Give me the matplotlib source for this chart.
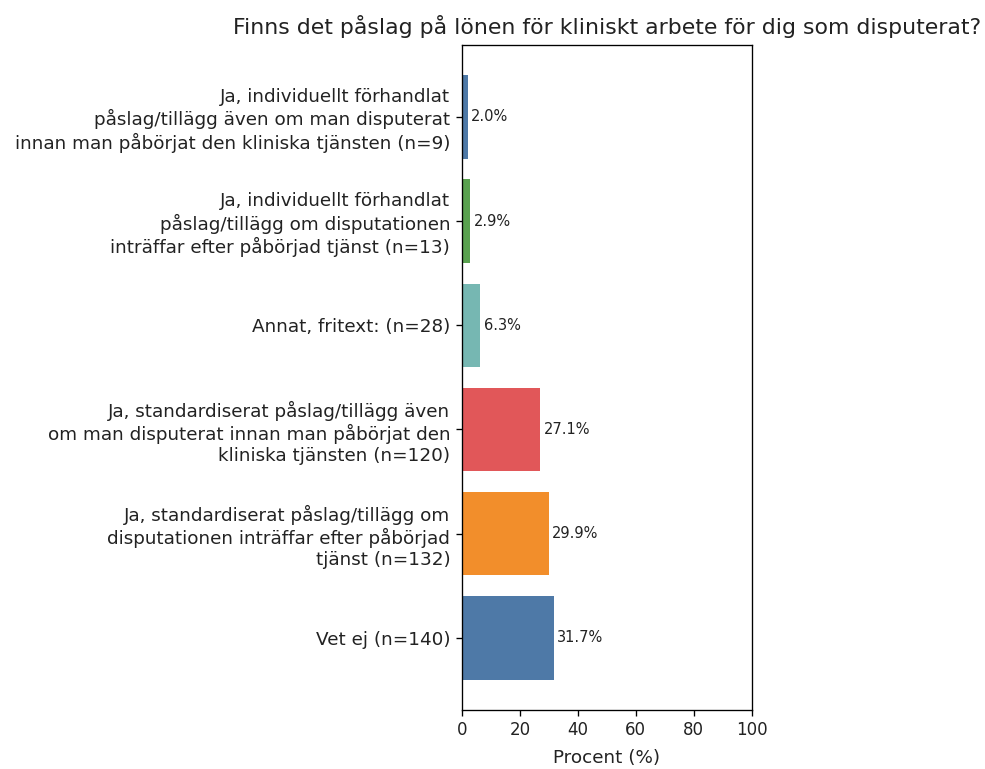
import matplotlib
matplotlib.use("Agg")
import matplotlib.pyplot as plt

# Survey answers (bottom to top)
labels = [
    "Vet ej (n=140)",
    "Ja, standardiserat påslag/tillägg om\ndisputationen inträffar efter påbörjad\ntjänst (n=132)",
    "Ja, standardiserat påslag/tillägg även\nom man disputerat innan man påbörjat den\nkliniska tjänsten (n=120)",
    "Annat, fritext: (n=28)",
    "Ja, individuellt förhandlat\npåslag/tillägg om disputationen\ninträffar efter påbörjad tjänst (n=13)",
    "Ja, individuellt förhandlat\npåslag/tillägg även om man disputerat\ninnan man påbörjat den kliniska tjänsten (n=9)",
]
percent = [31.7, 29.9, 27.1, 6.3, 2.9, 2.0]
colors = ["#4e79a7", "#f28e2b", "#e15759", "#76b7b2", "#59a14f", "#4e79a7"]

fig, ax = plt.subplots(figsize=(9.85, 7.69), dpi=100)
fig.subplots_adjust(left=0.469, right=0.763, top=0.9415, bottom=0.077)

bars = ax.barh(range(len(labels)), percent, color=colors, height=0.8)
ax.set_yticks(range(len(labels)))
ax.set_yticklabels(labels, fontsize=13.2, color="#222222")

for bar, v in zip(bars, percent):
    ax.text(bar.get_width() + 1.2, bar.get_y() + bar.get_height() / 2,
            f"{v:.1f}%", va="center", ha="left", fontsize=10.5, color="#222222")

ax.set_xlim(0, 100)
ax.tick_params(axis="x", labelsize=12, labelcolor="#222222")
ax.tick_params(length=4.2, width=0.96, pad=4.2)
for s in ax.spines.values():
    s.set_linewidth(0.96)
ax.set_xlabel("Procent (%)", fontsize=13.2, labelpad=7, color="#222222")
ax.set_title("Finns det påslag på lönen för kliniskt arbete för dig som disputerat?",
             fontsize=15.8, pad=8, color="#222222")

plt.savefig("out.png", dpi=100)
